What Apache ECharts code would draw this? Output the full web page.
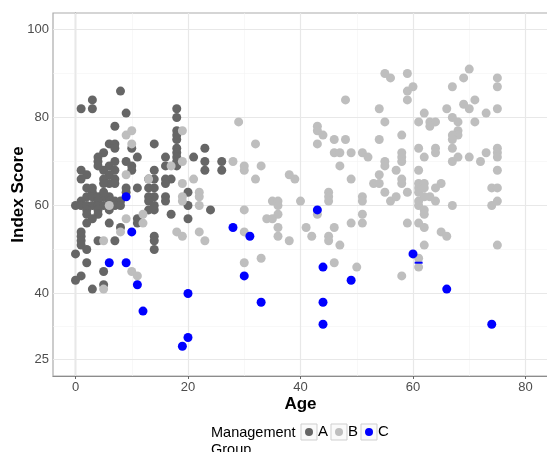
<!DOCTYPE html>
<html>
<head>
<meta charset="utf-8">
<script src="https://cdn.jsdelivr.net/npm/echarts@6/dist/echarts.min.js"></script>
<style>
  html, body { margin: 0; padding: 0; background: #fff; }
  #main { width: 547px; height: 452px; }
</style>
</head>
<body>
<div id="main"></div>
<script>
// group A (dark grey), [age, index score]
var groupA = [
  [8,86],[3,84],[1,82],[3,82],[9,81],[7,78],
  [18,82],[18,80],[18,77],[18,76],[18,75],[18,73],[18,72],[18,71],[18,70],[18,69],
  [6,74],[7,74],[7,73],[14,74],[10,73],[11,71],[5,72],[4,71],[4,70],[4,69],[7,70],[6,69],[9,70],[10,69],[10,68],
  [16,71],[16,69],[14,68],[21,71],[23,73],[23,70],[23,68],[26,70],[26,68],
  [1,68],[2,67],[1,66],[5,68],[7,68],[6,67],[5,66],[7,66],[6,65],[7,65],[5,65],
  [16,66],[17,66],[16,65],[14,66],[13,66],[13,64],[14,64],[14,62],[11,64],[9,64],[9,63],[16,62],[16,61],
  [13,62],[13,61],[13,59],[14,59],[14,60],[17,58],[20,63],[20,60],[20,57],[24,59],
  [2,64],[3,63],[2,62],[3,62],[4,62],[5,62],[6,62],[5,63],[3,64],[1,61],[4,61],[6,61],[7,61],[8,61],
  [0,60],[1,60],[2,60],[3,60],[4,60],[5,60],[7,60],[8,60],[2,59],[4,59],[6,59],[2,58],[4,58],[3,57],
  [2,56],[6,56],[8,55],[11,57],[11,56],
  [1,54],[1,53],[1,52],[1,51],[2,50],[0,49],[2,47],[4,52],[7,52],[14,53],[14,52],[14,50],
  [5,45],[5,42],[1,44],[0,43],[3,41]
];
// group B (light grey)
var groupB = [
  [9,76],[10,77],[10,74],[19,77],[29,79],[32,74],[28,70],[30,69],[30,68],[33,69],[32,66],[19,70],[17,69],
  [9,67],[13,66],[19,65],[21,66],[22,63],[22,62],[22,60],[19,62],[19,61],[6,60],[9,57],[12,58],[12,56],
  [8,54],[5,52],[10,45],[11,44],[5,41],[18,54],[19,53],[22,54],[23,52],[30,59],[30,54],[30,47],[33,48],
  [35,61],[36,61],[36,60],[34,57],[35,57],[36,58],[36,55],[36,53],[38,52],[38,67],[39,66],[40,61],[41,55],[42,53],
  [43,78],[43,77],[44,76],[43,74],[46,75],[48,75],[46,72],[47,72],[49,72],[51,72],[52,71],[47,69],[48,84],
  [43,58],[45,63],[45,62],[45,61],[45,53],[45,52],[46,55],[47,51],[49,56],[49,66],[51,62],[51,61],[51,58],[51,56],
  [46,47],[50,46],
  [53,65],[54,65],[54,67],[54,75],[54,82],[55,79],[55,70],[55,69],[55,63],[56,61],[57,62],[57,68],[55,90],[56,89],
  [58,76],[58,72],[58,71],[58,70],[58,66],[58,65],[58,44],[59,90],[59,86],[60,87],[59,84],[59,63],[59,56],
  [70,91],[69,89],[67,87],[75,89],[75,87],[71,84],[69,83],[70,82],[75,82],[73,81],[66,82],[62,81],[67,80],
  [68,79],[71,79],[61,79],[63,79],[64,79],[63,78],[68,77],[68,76],[67,76],[67,75],
  [61,73],[62,71],[64,73],[64,72],[67,73],[67,70],[68,71],[70,71],[72,70],[73,72],[75,73],[75,72],[75,71],
  [61,68],[75,68],
  [61,65],[62,65],[65,65],[61,64],[61,63],[62,64],[64,64],[63,62],[62,62],[61,61],[61,60],[64,61],[67,60],
  [74,64],[75,64],[74,60],[75,61],[62,59],[62,58],[61,56],[62,55],[65,54],[66,53],[62,51],[75,51],[61,48],[61,46]
];
// group C (blue)
var groupC = [
  [9,62],[10,54],[6,47],[9,47],[11,42],[12,36],[20,40],[20,30],[19,28],[28,55],[31,53],[30,44],[33,38],
  [43,59],[44,46],[44,38],[44,33],[49,43],[60,49],[66,41],[74,33]
];
var groupCOdd = [[61,47]];

var xTicks = [0, 20, 40, 60, 80];
var xMinor = [10, 30, 50, 70];
var yTicks = [25, 40, 60, 80, 100];
var yMinor = [32.5, 50, 70, 90];

var myChart = echarts.init(document.getElementById('main'));
var font = "'Liberation Sans', Arial, sans-serif";

function gridLines(vals, key, width, color) {
  return vals.map(function (v) {
    var o = { lineStyle: { width: width, color: color, type: 'solid' } };
    o[key] = v;
    return o;
  });
}

var lines = []
  .concat(gridLines(xMinor, 'xAxis', 0.6, '#f3f3f3'))
  .concat(gridLines(yMinor, 'yAxis', 0.6, '#f3f3f3'))
  .concat(gridLines(xTicks, 'xAxis', 1.2, '#e8e8e8'))
  .concat(gridLines(yTicks, 'yAxis', 1.2, '#e8e8e8'));

var option = {
  animation: false,
  textStyle: { fontFamily: font },
  grid: {
    left: 53, top: 13, width: 495, height: 363,
    outerBoundsMode: 'none', containLabel: false,
    show: true, borderColor: '#ababab', borderWidth: 1.2, backgroundColor: '#fff'
  },
  xAxis: {
    type: 'value', min: -4, max: 84,
    name: 'Age', nameLocation: 'middle', nameGap: 20, nameMoveOverlap: false,
    nameTextStyle: { fontSize: 17, fontWeight: 'bold', color: '#000', fontFamily: font },
    axisLine: { show: true, lineStyle: { color: '#8c8c8c', width: 1.2 } },
    axisTick: { show: true, customValues: xTicks, length: 3, lineStyle: { color: '#666' } },
    axisLabel: { customValues: xTicks, margin: 5, fontSize: 13, color: '#4d4d4d', fontFamily: font },
    splitLine: { show: false }
  },
  yAxis: {
    type: 'value', min: 21.25, max: 103.75,
    name: 'Index Score', nameLocation: 'middle', nameGap: 26, nameMoveOverlap: false,
    nameTextStyle: { fontSize: 17, fontWeight: 'bold', color: '#000', fontFamily: font },
    axisLine: { show: true, lineStyle: { color: '#8c8c8c', width: 1.2 } },
    axisTick: { show: true, customValues: yTicks, length: 3, lineStyle: { color: '#666' } },
    axisLabel: { customValues: yTicks, margin: 4, fontSize: 13, color: '#4d4d4d', fontFamily: font },
    splitLine: { show: false }
  },
  legend: {
    data: ['A', 'B', 'C'],
    left: 300, top: 419,
    icon: 'circle', itemWidth: 8, itemHeight: 8, itemGap: 7,
    textStyle: { fontSize: 15, color: '#000', lineHeight: 16, fontFamily: font },
    z: 5
  },
  graphic: [
    { type: 'text', left: 211, top: 424, z: 1,
      style: { text: 'Management\nGroup', fontSize: 14.5, lineHeight: 17, fill: '#000', fontFamily: font } },
    { type: 'rect', shape: { x: 301, y: 424, width: 16, height: 16 }, z: 1,
      style: { fill: '#fafafa', stroke: '#cfcfcf', lineWidth: 1 } },
    { type: 'rect', shape: { x: 331, y: 424, width: 16, height: 16 }, z: 1,
      style: { fill: '#fafafa', stroke: '#cfcfcf', lineWidth: 1 } },
    { type: 'rect', shape: { x: 361, y: 424, width: 16, height: 16 }, z: 1,
      style: { fill: '#fafafa', stroke: '#cfcfcf', lineWidth: 1 } }
  ],
  series: [
    {
      type: 'scatter', data: [], silent: true, z: 1,
      markLine: { silent: true, z: 1, symbol: ['none', 'none'], label: { show: false }, data: lines, animation: false }
    },
    { name: 'A', type: 'scatter', symbolSize: 9, itemStyle: { color: '#666666', opacity: 1 }, data: groupA, z: 3 },
    { name: 'B', type: 'scatter', symbolSize: 9, itemStyle: { color: '#bebebe', opacity: 1 }, data: groupB, z: 3 },
    { name: 'C', type: 'scatter', symbolSize: 9, itemStyle: { color: '#0000ff', opacity: 1 },
      data: groupC.concat(groupCOdd.map(function (p) {
        return { value: p, symbol: 'rect', symbolSize: [8, 2] };
      })), z: 3 }
  ]
};

myChart.setOption(option);
</script>
</body>
</html>
